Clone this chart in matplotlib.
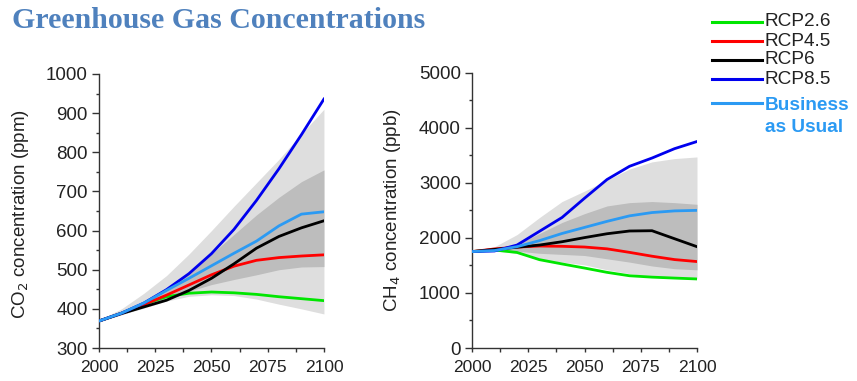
import matplotlib

matplotlib.use("Agg")

import matplotlib.pyplot as plt
from matplotlib.lines import Line2D
from matplotlib.ticker import MultipleLocator

plt.rcParams["font.family"] = ["Liberation Sans", "DejaVu Sans"]

years = [2000, 2010, 2020, 2030, 2040, 2050, 2060, 2070, 2080, 2090, 2100]

# CO2 concentration (ppm)
co2_rcp26 = [369, 389, 412, 431, 440, 443, 441, 437, 431, 426, 421]
co2_rcp45 = [369, 389, 411, 435, 461, 487, 509, 524, 531, 535, 538]
co2_rcp6 = [369, 388, 405, 422, 447, 478, 515, 555, 585, 607, 625]
co2_rcp85 = [369, 389, 415, 449, 490, 541, 603, 677, 758, 845, 936]
co2_bau = [369, 389, 415, 447, 478, 510, 542, 573, 612, 642, 648]
co2_outer_hi = [372, 400, 440, 485, 540, 600, 662, 722, 782, 847, 910]
co2_outer_lo = [366, 385, 402, 420, 432, 436, 434, 425, 412, 400, 387]
co2_inner_hi = [369, 390, 420, 455, 495, 540, 590, 640, 685, 725, 755]
co2_inner_lo = [368, 385, 405, 425, 445, 462, 475, 487, 500, 507, 508]

# CH4 concentration (ppb)
ch4_rcp26 = [1751, 1780, 1735, 1604, 1527, 1452, 1374, 1312, 1287, 1270, 1254]
ch4_rcp45 = [1751, 1799, 1833, 1852, 1847, 1834, 1801, 1737, 1667, 1606, 1570]
ch4_rcp6 = [1751, 1790, 1830, 1870, 1930, 2005, 2075, 2125, 2130, 1985, 1840]
ch4_rcp85 = [1751, 1762, 1870, 2120, 2370, 2720, 3060, 3300, 3450, 3620, 3750]
ch4_bau = [1751, 1770, 1840, 1950, 2080, 2190, 2300, 2400, 2460, 2490, 2500]
ch4_outer_hi = [1760, 1840, 2060, 2370, 2660, 2850, 3050, 3250, 3380, 3440, 3470]
ch4_outer_lo = [1745, 1760, 1720, 1610, 1560, 1510, 1420, 1350, 1300, 1275, 1260]
ch4_inner_hi = [1755, 1800, 1880, 2080, 2280, 2440, 2580, 2640, 2660, 2640, 2610]
ch4_inner_lo = [1745, 1765, 1760, 1720, 1700, 1680, 1620, 1560, 1490, 1440, 1420]

labels = ["RCP2.6", "RCP4.5", "RCP6", "RCP8.5", "Business\nas Usual"]
colors = ["#00e600", "#ff0000", "#000000", "#0000ee", "#2b9af3"]

TICK_C = "#333333"
TEXT_C = "#222222"


def style_axes(ax, ymajor, yminor):
    for s in ("top", "right"):
        ax.spines[s].set_visible(False)
    for s in ("left", "bottom"):
        ax.spines[s].set_color(TICK_C)
        ax.spines[s].set_linewidth(1.0)
    ax.set_xlim(2000, 2100)
    ax.xaxis.set_major_locator(MultipleLocator(25))
    ax.xaxis.set_minor_locator(MultipleLocator(12.5))
    ax.yaxis.set_major_locator(MultipleLocator(ymajor))
    ax.yaxis.set_minor_locator(MultipleLocator(yminor))
    ax.tick_params(which="both", width=1, color=TICK_C, labelsize=13.5, labelcolor=TEXT_C)
    ax.tick_params(axis="y", which="major", length=5, pad=3)
    ax.tick_params(axis="y", which="minor", length=2.5)
    ax.tick_params(axis="x", which="both", length=3, pad=5.6, labelsize=12.5)


def draw_panel(ax, series, outer, inner):
    ax.fill_between(years, outer[1], outer[0], color="#dedede", lw=0, zorder=1)
    ax.fill_between(years, inner[1], inner[0], color="#bdbdbd", lw=0, zorder=2)
    for i in [0, 1, 2, 4, 3]:
        ax.plot(years, series[i], color=colors[i], lw=2.0, zorder=3 + i)


fig = plt.figure(figsize=(8.57, 3.81), dpi=100)

ax1 = fig.add_axes([0.1155, 0.0866, 0.2625, 0.7192])
draw_panel(ax1, [co2_rcp26, co2_rcp45, co2_rcp6, co2_rcp85, co2_bau],
           (co2_outer_hi, co2_outer_lo), (co2_inner_hi, co2_inner_lo))
ax1.set_ylim(300, 1000)
style_axes(ax1, 100, 50)
ax1.set_ylabel(r"CO$_2$ concentration (ppm)", fontsize=13.5, color=TEXT_C)
ax1.yaxis.set_label_coords(-0.30, 0.49)

ax2 = fig.add_axes([0.5508, 0.0866, 0.2625, 0.7226])
draw_panel(ax2, [ch4_rcp26, ch4_rcp45, ch4_rcp6, ch4_rcp85, ch4_bau],
           (ch4_outer_hi, ch4_outer_lo), (ch4_inner_hi, ch4_inner_lo))
ax2.set_ylim(0, 5000)
style_axes(ax2, 1000, 500)
ax2.set_ylabel(r"CH$_4$ concentration (ppb)", fontsize=13.5, color=TEXT_C)
ax2.yaxis.set_label_coords(-0.305, 0.50)

fig.text(0.014, 0.945, "Greenhouse Gas Concentrations", fontsize=21.5, fontweight="bold",
         family="Liberation Serif", color="#4f81bd", ha="left", va="center")

# legend, laid out by hand in pixel positions of the figure
W, H = 857, 381
row_y = [21.7, 41, 60, 79.3, 103]
for lab, c, y in zip(labels, colors, row_y):
    yf = 1 - y / H
    fig.add_artist(Line2D([712 / W, 762 / W], [yf, yf], color=c, lw=2.2))
    if "\n" in lab:
        fig.text(765 / W, 1 - 97 / H, lab, fontsize=13.7, fontweight="bold", color=c,
                 ha="left", va="top", linespacing=1.4)
    else:
        fig.text(765 / W, yf, lab, fontsize=13.7, color=TEXT_C, ha="left", va="center")

fig.savefig("out.png", dpi=100)
